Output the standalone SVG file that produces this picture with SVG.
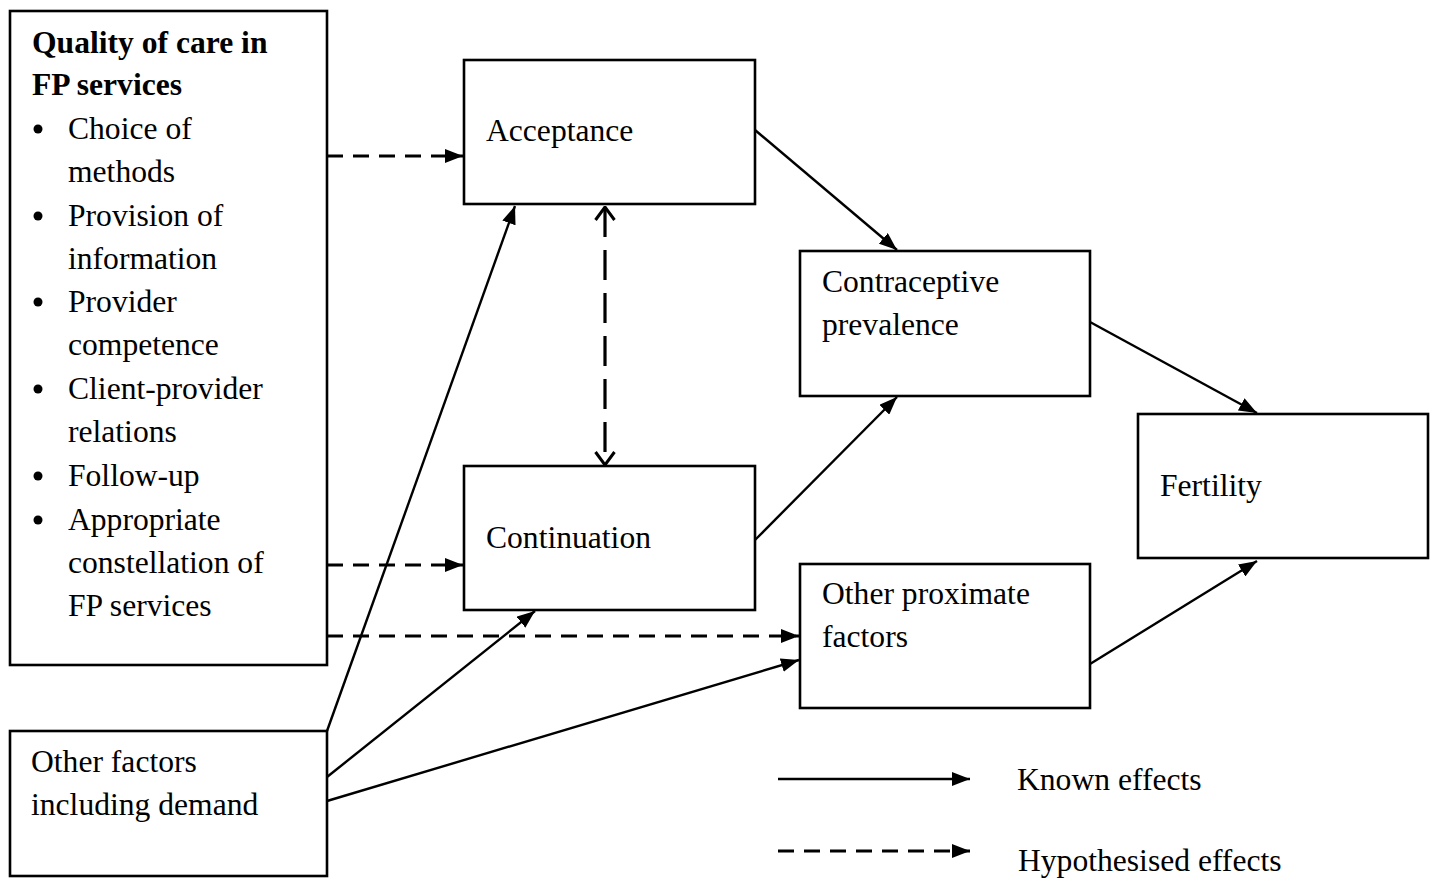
<svg xmlns="http://www.w3.org/2000/svg" width="1437" height="880" viewBox="0 0 1437 880">
<defs>
<style>
.box{fill:#fff;stroke:#000;stroke-width:2.6}
.t{font-family:"Liberation Serif","Times New Roman",serif;font-size:31.6px;fill:#000}
.b{font-weight:bold}
.ln{fill:none;stroke:#000;stroke-width:2.4}
.d{stroke-width:2.8;stroke-dasharray:16 10}
.dv{stroke-width:3.2;stroke-dasharray:30 13}
</style>
<marker id="ah" viewBox="0 0 18 14" refX="18" refY="7" markerWidth="18" markerHeight="14" markerUnits="userSpaceOnUse" orient="auto">
<path d="M0,0 L18,7 L0,14 Z" fill="#000"/>
</marker>
<marker id="oh" viewBox="0 0 16 22" refX="14.5" refY="11" markerWidth="16" markerHeight="22" markerUnits="userSpaceOnUse" orient="auto-start-reverse">
<path d="M1.5,1.5 L14.5,11 L1.5,20.5" fill="none" stroke="#000" stroke-width="3"/>
</marker>
</defs>
<rect width="1437" height="880" fill="#fff"/>
<g id="connectors">
<line class="ln d" x1="327" y1="156" x2="463" y2="156" marker-end="url(#ah)"/>
<line class="ln d" x1="327" y1="565" x2="463" y2="565" marker-end="url(#ah)"/>
<line class="ln d" x1="327" y1="636" x2="799" y2="636" marker-end="url(#ah)"/>
<line class="ln" x1="327" y1="731" x2="515" y2="206" marker-end="url(#ah)"/>
<line class="ln" x1="327" y1="777" x2="535" y2="611" marker-end="url(#ah)"/>
<line class="ln" x1="327" y1="801" x2="799" y2="660" marker-end="url(#ah)"/>
<line class="ln dv" x1="605" y1="207" x2="605" y2="465" marker-start="url(#oh)" marker-end="url(#oh)"/>
<line class="ln" x1="755" y1="130" x2="897" y2="250" marker-end="url(#ah)"/>
<line class="ln" x1="755" y1="540" x2="897" y2="397" marker-end="url(#ah)"/>
<line class="ln" x1="1090" y1="322" x2="1257" y2="413" marker-end="url(#ah)"/>
<line class="ln" x1="1090" y1="664" x2="1257" y2="561" marker-end="url(#ah)"/>
</g>
<g id="quality">
<rect class="box" x="10" y="11" width="317" height="654"/>
<text class="t b" x="32" y="53">Quality of care in</text>
<text class="t b" x="32" y="95">FP services</text>
<g fill="#000">
<circle cx="38" cy="129" r="4.5"/><circle cx="38" cy="216" r="4.5"/><circle cx="38" cy="302" r="4.5"/>
<circle cx="38" cy="389" r="4.5"/><circle cx="38" cy="476" r="4.5"/><circle cx="38" cy="520" r="4.5"/>
</g>
<text class="t" x="68" y="139">Choice of</text>
<text class="t" x="68" y="182">methods</text>
<text class="t" x="68" y="226">Provision of</text>
<text class="t" x="68" y="269">information</text>
<text class="t" x="68" y="312">Provider</text>
<text class="t" x="68" y="355">competence</text>
<text class="t" x="68" y="399">Client-provider</text>
<text class="t" x="68" y="442">relations</text>
<text class="t" x="68" y="486">Follow-up</text>
<text class="t" x="68" y="530">Appropriate</text>
<text class="t" x="68" y="573">constellation of</text>
<text class="t" x="68" y="616">FP services</text>
</g>
<g id="other-factors">
<rect class="box" x="10" y="731" width="317" height="145"/>
<text class="t" x="31" y="772">Other factors</text>
<text class="t" x="31" y="815">including demand</text>
</g>
<g id="acceptance">
<rect class="box" x="464" y="60" width="291" height="144"/>
<text class="t" x="486" y="141">Acceptance</text>
</g>
<g id="continuation">
<rect class="box" x="464" y="466" width="291" height="144"/>
<text class="t" x="486" y="548">Continuation</text>
</g>
<g id="contraceptive">
<rect class="box" x="800" y="251" width="290" height="145"/>
<text class="t" x="822" y="292">Contraceptive</text>
<text class="t" x="822" y="335">prevalence</text>
</g>
<g id="proximate">
<rect class="box" x="800" y="564" width="290" height="144"/>
<text class="t" x="822" y="604">Other proximate</text>
<text class="t" x="822" y="647">factors</text>
</g>
<g id="fertility">
<rect class="box" x="1138" y="414" width="290" height="144"/>
<text class="t" x="1160" y="496">Fertility</text>
</g>
<g id="legend">
<line class="ln" x1="778" y1="779" x2="970" y2="779" marker-end="url(#ah)"/>
<line class="ln d" x1="778" y1="851" x2="970" y2="851" marker-end="url(#ah)"/>
<text class="t" x="1017" y="790">Known effects</text>
<text class="t" x="1018" y="871">Hypothesised effects</text>
</g>
</svg>
